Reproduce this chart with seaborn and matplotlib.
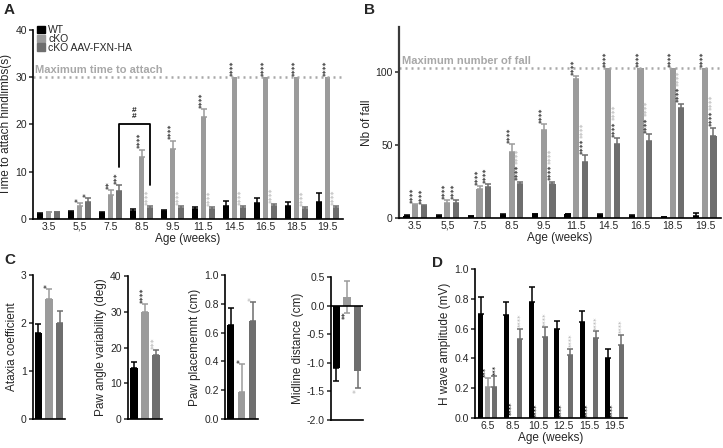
import numpy as np
import pandas as pd
import matplotlib
matplotlib.use("Agg")
import matplotlib.pyplot as plt
from matplotlib.patches import Patch
import seaborn as sns

sns.set_theme(style="ticks")
plt.rcParams["font.family"] = ["Liberation Sans", "DejaVu Sans"]

# ---------------- data ----------------
groups = ["WT", "cKO", "cKO AAV-FXN-HA"]
colors = ["#000000", "#9b9b9b", "#6e6e6e"]
STAR_GREY = "#b0b0b0"
LINE_GREY = "#a8a8a8"

ages_ab = ["3.5", "5,5", "7.5", "8.5", "9.5", "11.5", "14.5", "16.5", "18.5", "19.5"]

attach_wt = [1.1, 1.5, 1.3, 1.7, 1.6, 2.1, 2.8, 3.4, 2.7, 3.6]
attach_wt_err = [0.1, 0.1, 0.1, 0.5, 0.3, 0.4, 1.0, 1.0, 0.9, 1.8]
attach_ko = [1.4, 2.8, 5.0, 13.2, 14.8, 21.5, 30, 30, 30, 30]
attach_ko_err = [0.1, 0.6, 1.2, 1.5, 1.8, 1.7, 0, 0, 0, 0]
attach_aav = [1.4, 3.5, 6.0, 2.3, 2.3, 2.2, 2.3, 2.7, 2.2, 2.3]
attach_aav_err = [0.1, 1.0, 1.1, 0.4, 0.4, 0.4, 0.4, 0.5, 0.4, 0.4]
attach_ko_stars = ["", "*", "**", "****", "****", "****", "****", "****", "****", "****"]
attach_aav_stars = ["", "*", "***", "", "", "", "", "", "", ""]
attach_aav_stars_vs_ko = ["", "", "", "****", "****", "****", "****", "****", "****", "****"]
attach_max = 30

fall_wt = [1.5, 1.5, 1.2, 2.0, 2.5, 2.5, 2.0, 1.5, 0.5, 1.5]
fall_wt_err = [0.5, 0.5, 0.5, 0.5, 0.5, 0.5, 0.5, 0.5, 0.5, 2.0]
fall_ko = [9, 10.5, 20, 45.5, 60.5, 95.5, 103, 103, 103, 103]
fall_ko_err = [0.8, 2, 2, 5, 4, 2, 0, 0, 0, 0]
fall_aav = [8, 10.5, 21.5, 23, 23, 38.5, 51, 52.5, 75.5, 56]
fall_aav_err = [0.8, 2, 1.5, 2, 2, 4.5, 4, 5, 3, 6]
fall_ko_stars = ["****"] * 10
fall_aav_stars = ["****"] * 10
fall_aav_stars_vs_ko = ["", "", "", "****", "****", "****", "****", "****", "****", "****"]
fall_max = 103

ataxia = [1.80, 2.50, 2.00]
ataxia_err = [0.18, 0.20, 0.24]
paw_angle = [14.3, 30.0, 17.9]
paw_angle_err = [1.6, 2.2, 1.4]
paw_place = [0.655, 0.186, 0.682]
paw_place_err = [0.115, 0.195, 0.128]
midline = [-1.09, 0.15, -1.14]
midline_err = [0.23, 0.28, 0.30]

ages_d = ["6.5", "8.5", "10.5", "12.5", "15.5", "19.5"]
hwave_wt = [0.70, 0.69, 0.78, 0.597, 0.645, 0.405]
hwave_wt_err = [0.11, 0.09, 0.10, 0.056, 0.07, 0.055]
hwave_ko = [0.21, 0.01, 0.0, 0.0, 0.0, 0.0]
hwave_ko_err = [0.06, 0, 0, 0, 0, 0]
hwave_aav = [0.21, 0.53, 0.545, 0.42, 0.534, 0.49]
hwave_aav_err = [0.07, 0.07, 0.065, 0.046, 0.051, 0.07]
hwave_ko_stars = ["***", "****", "****", "****", "****", "****"]
hwave_aav_stars = ["***", "", "", "", "", ""]
hwave_aav_stars_vs_ko = ["", "****", "****", "****", "****", "****"]

# ---------------- helpers ----------------
W, H = 723, 448
fig = plt.figure(figsize=(W / 100, H / 100), dpi=100)


def rect(x0, y0, x1, y1):
    return [x0 / W, 1 - y1 / H, (x1 - x0) / W, (y1 - y0) / H]


TICK_FS = 7.5
LAB_FS = 8.5
STAR_FS = 5.5


def style(ax):
    sns.despine(ax=ax)
    for s in ["left", "bottom"]:
        ax.spines[s].set_linewidth(1.2)
        ax.spines[s].set_color("black")
    ax.tick_params(axis="y", length=3, width=1.1, labelsize=TICK_FS, pad=1.5, direction="out")
    ax.tick_params(axis="x", length=0, labelsize=TICK_FS, pad=2)


def grouped(ax, cats, series, width=0.8, gap=0.28):
    rows = []
    for g, vals in zip(groups, series):
        for c, v in zip(cats, vals):
            rows.append({"cat": c, "val": v, "group": g})
    df = pd.DataFrame(rows)
    sns.barplot(data=df, x="cat", y="val", hue="group", order=cats, hue_order=groups,
                palette=colors, width=width, gap=gap, errorbar=None, saturation=1,
                legend=False, linewidth=0, ax=ax)
    return [list(c) for c in ax.containers]


def single(ax, vals, width=0.68):
    df = pd.DataFrame({"group": groups, "val": vals})
    sns.barplot(data=df, x="group", y="val", hue="group", order=groups, hue_order=groups,
                palette=colors, width=width, errorbar=None, saturation=1,
                legend=False, linewidth=0, ax=ax)
    pats = sorted([p for p in ax.patches], key=lambda p: p.get_x())
    return pats


def err(ax, patches, errs, color, lo=None, lw=1.1, cap=2.0):
    for i, (p, e) in enumerate(zip(patches, errs)):
        if e <= 0:
            continue
        x = p.get_x() + p.get_width() / 2
        top = p.get_y() + p.get_height()
        neg = p.get_height() < 0
        low = 0 if lo is None else lo[i]
        if neg:
            yerr = [[e], [low]]
        else:
            yerr = [[low], [e]]
        ax.errorbar([x], [top], yerr=yerr, fmt="none", ecolor=color,
                    elinewidth=lw, capsize=cap, capthick=lw, zorder=3)


def star(ax, x, y, items, down=False, fs=STAR_FS, dx=-0.5):
    off = 0.8
    for s, col in items:
        if not s:
            continue
        ax.annotate(s, (x, y), xytext=(dx, -off if down else off), textcoords="offset points",
                    rotation=90, ha="center", va="top" if down else "bottom",
                    fontsize=fs, color=col, family="DejaVu Sans", linespacing=0.8)
        off += len(s) * fs * 0.5 + 1.0


def bar_top(p, e):
    return p.get_y() + p.get_height() + e


def center(p):
    return p.get_x() + p.get_width() / 2


# ---------------- panel A ----------------
axA = fig.add_axes(rect(33, 30, 343, 219))
pA = grouped(axA, ages_ab, [attach_wt, attach_ko, attach_aav])
for pats, e, c in zip(pA, [attach_wt_err, attach_ko_err, attach_aav_err], colors):
    err(axA, pats, e, c)
axA.set_xlim(-0.5, 9.5)
axA.set_ylim(0, 40)
axA.set_yticks([0, 10, 20, 30, 40])
style(axA)
axA.set_ylabel("Time to attach hindlimbs(s)", fontsize=LAB_FS, labelpad=2)
axA.set_xlabel("Age (weeks)", fontsize=LAB_FS, labelpad=1)
axA.axhline(attach_max, ls=(0, (0.8, 1.6)), lw=1.8, color=LINE_GREY, zorder=1)
axA.text(0.008, attach_max + 0.4, "Maximum time to attach", transform=axA.get_yaxis_transform(),
         fontsize=8, fontweight="bold", color=LINE_GREY, va="bottom", ha="left")
for i in range(len(ages_ab)):
    pk, pa = pA[1][i], pA[2][i]
    star(axA, center(pk), bar_top(pk, attach_ko_err[i]), [(attach_ko_stars[i], "black")])
    star(axA, center(pa), bar_top(pa, attach_aav_err[i]),
         [(attach_aav_stars[i], "black"), (attach_aav_stars_vs_ko[i], STAR_GREY)])
# bracket 7.5 vs 8.5 treated
xl, xr = center(pA[2][2]), center(pA[2][3])
axA.plot([xl, xl, xr, xr], [10.9, 20.1, 20.1, 7.3], color="black", lw=1.3)
axA.text((xl + xr) / 2, 20.9, "#\n#", ha="center", va="bottom", fontsize=6,
         fontweight="bold", linespacing=0.75)
axA.legend([Patch(color=c) for c in colors], groups, loc="upper left",
           bbox_to_anchor=(0.012, 1.025), frameon=False, fontsize=7.5, handlelength=0.75,
           handleheight=0.75, labelspacing=-0.12, handletextpad=0.35, borderaxespad=0,
           borderpad=0)

# ---------------- panel B ----------------
axB = fig.add_axes(rect(399, 27, 721, 218))
pB = grouped(axB, ages_ab, [fall_wt, fall_ko, fall_aav])
for pats, e, c in zip(pB, [fall_wt_err, fall_ko_err, fall_aav_err], colors):
    err(axB, pats, e, c)
axB.set_xlim(-0.5, 9.5)
axB.set_ylim(0, 131)
axB.set_yticks([0, 50, 100])
style(axB)
axB.spines["left"].set_color("#3a3a3a")
axB.spines["left"].set_linewidth(1.6)
axB.set_ylabel("Nb of fall", fontsize=LAB_FS, labelpad=2)
axB.set_xlabel("Age (weeks)", fontsize=LAB_FS, labelpad=1)
axB.axhline(fall_max, ls=(0, (0.8, 1.6)), lw=1.8, color=LINE_GREY, zorder=1)
axB.text(0.008, fall_max + 1.2, "Maximum number of fall", transform=axB.get_yaxis_transform(),
         fontsize=8, fontweight="bold", color=LINE_GREY, va="bottom", ha="left")
for i in range(len(ages_ab)):
    pk, pa = pB[1][i], pB[2][i]
    star(axB, center(pk), bar_top(pk, fall_ko_err[i]), [(fall_ko_stars[i], "black")])
    star(axB, center(pa), bar_top(pa, fall_aav_err[i]),
         [(fall_aav_stars[i], "black"), (fall_aav_stars_vs_ko[i], STAR_GREY)])

# ---------------- panel C ----------------
c_specs = [
    (rect(33, 275, 65, 419), ataxia, ataxia_err, "Ataxia coefficient", (0, 3), [0, 1, 2, 3], "%d"),
    (rect(128, 276, 162, 419), paw_angle, paw_angle_err, "Paw angle variability (deg)", (0, 40),
     [0, 10, 20, 30, 40], "%d"),
    (rect(225, 275, 258, 419), paw_place, paw_place_err, "Paw placememnt (cm)", (0, 1.0),
     [0, 0.2, 0.4, 0.6, 0.8, 1.0], "%.1f"),
]
c_stars = [
    [("", None), ("*", "black"), ("", None)],
    [("", None), ("****", "black"), ("***", STAR_GREY)],
    [("", None), ("*", "black"), ("*", STAR_GREY)],
]
axesC = []
for (r, vals, e, lab, ylim, ticks, fmt), st in zip(c_specs, c_stars):
    ax = fig.add_axes(r)
    pats = single(ax, vals)
    for p, ee, c in zip(pats, e, colors):
        err(ax, [p], [ee], c)
    ax.set_xlim(-0.5, 2.5)
    ax.set_ylim(*ylim)
    ax.set_yticks(ticks)
    ax.set_yticklabels([fmt % t for t in ticks])
    style(ax)
    ax.set_xticks([])
    ax.set_xlabel("")
    ax.set_ylabel(lab, fontsize=LAB_FS, labelpad=2)
    for p, ee, (s, col) in zip(pats, e, st):
        if s:
            star(ax, center(p), bar_top(p, ee), [(s, col)])
    axesC.append(ax)

axC4 = fig.add_axes(rect(331, 277, 363, 420))
pats = single(axC4, midline)
err(axC4, [pats[0]], [midline_err[0]], colors[0])
err(axC4, [pats[1]], [midline_err[1]], colors[1], lo=[midline_err[1]])
err(axC4, [pats[2]], [midline_err[2]], colors[2], lo=[midline_err[2]])
axC4.set_xlim(-0.5, 2.5)
axC4.set_ylim(-2.0, 0.5)
axC4.set_yticks([-2.0, -1.5, -1.0, -0.5, 0.0, 0.5])
axC4.set_yticklabels(["-2.0", "-1.5", "-1.0", "-0.5", "0.0", "0.5"])
style(axC4)
axC4.set_xticks([])
axC4.set_xlabel("")
axC4.axhline(0, color="black", lw=1.2, zorder=4)
axC4.set_ylabel("Midline distance (cm)", fontsize=LAB_FS, labelpad=2)
star(axC4, center(pats[1]), midline[1] - midline_err[1] + 0.05, [("**", "black")], down=True)
star(axC4, center(pats[2]), midline[2] - midline_err[2], [("*", STAR_GREY)], down=True)

# ---------------- panel D ----------------
axD = fig.add_axes(rect(475, 269, 627, 418))
pD = grouped(axD, ages_d, [hwave_wt, hwave_ko, hwave_aav], gap=0.25)
for p, e, c in zip(pD, [hwave_wt_err, hwave_ko_err, hwave_aav_err], colors):
    err(axD, p, e, c)
axD.set_xlim(-0.5, 5.5)
axD.set_ylim(0, 1.0)
axD.set_yticks([0, 0.2, 0.4, 0.6, 0.8, 1.0])
axD.set_yticklabels(["0.0", "0.2", "0.4", "0.6", "0.8", "1.0"])
style(axD)
axD.set_ylabel("H wave amplitude (mV)", fontsize=LAB_FS, labelpad=2)
axD.set_xlabel("Age (weeks)", fontsize=LAB_FS, labelpad=1)
for i in range(len(ages_d)):
    pk, pa = pD[1][i], pD[2][i]
    star(axD, center(pk), bar_top(pk, hwave_ko_err[i]), [(hwave_ko_stars[i], "black")],
         fs=5, dx=-1.2)
    star(axD, center(pa), bar_top(pa, hwave_aav_err[i]),
         [(hwave_aav_stars[i], "black"), (hwave_aav_stars_vs_ko[i], STAR_GREY)], fs=5, dx=0.6)

# ---------------- panel letters ----------------
for lx, ly, t in [(4, 3, "A"), (364, 3, "B"), (4, 253, "C"), (432, 256, "D")]:
    fig.text(lx / W, 1 - ly / H, t, fontsize=11, fontweight="bold", va="top", ha="left")

fig.savefig("out.png", dpi=100)
